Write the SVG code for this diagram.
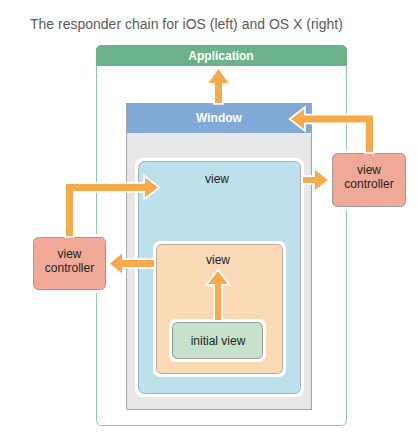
<svg xmlns="http://www.w3.org/2000/svg" width="417" height="442" viewBox="0 0 417 442">
<style>
text{font-family:"Liberation Sans",Arial,sans-serif;}
.lbl{font-size:12px;fill:#222;text-anchor:middle;}
.hdr{font-size:12px;font-weight:bold;fill:#fff;text-anchor:middle;}
.ring{fill:#fff;}
.arrow{fill:#f6aa4b;stroke:#fff;stroke-width:3.5;paint-order:stroke;stroke-linejoin:miter;}
.vc{fill:#f1a997;stroke:#a39893;stroke-width:1;}
</style>
<rect width="417" height="442" fill="#fff"/>
<text x="30" y="29" font-size="14" fill="#5b5b5b">The responder chain for iOS (left) and OS X (right)</text>

<g id="application">
  <rect x="96.5" y="45.5" width="250" height="380" rx="5" fill="#fff" stroke="#8ccaa4" stroke-width="1"/>
  <path d="M96,66 V50.5 A5,5 0 0 1 101,45 H342 A5,5 0 0 1 347,50.5 V66 Z" fill="#6bb28a"/>
  <text class="hdr" x="221" y="60">Application</text>
</g>

<g id="window">
  <rect x="126.5" y="103.5" width="185" height="306" fill="#e6e7e6" stroke="#a5a5a5" stroke-width="1"/>
  <rect x="127" y="104" width="184" height="29" fill="#81a9d6"/>
  <text class="hdr" x="219" y="122">Window</text>
</g>

<g id="view-outer">
  <rect class="ring" x="135" y="158" width="169" height="239" rx="8"/>
  <rect x="138.5" y="161.5" width="162" height="232" rx="6" fill="#bde1eb" stroke="#9fb0b8" stroke-width="1"/>
  <text class="lbl" x="217" y="183">view</text>
</g>

<g id="view-inner">
  <rect class="ring" x="153" y="241" width="133" height="136" rx="7"/>
  <rect x="156.5" y="244.5" width="126" height="129" rx="5" fill="#fad9b7" stroke="#b9aa9c" stroke-width="1"/>
  <text class="lbl" x="218" y="264">view</text>
</g>

<g id="initial-view">
  <rect class="ring" x="169" y="319" width="97" height="43" rx="7"/>
  <rect x="172.5" y="322.5" width="90" height="36" rx="5" fill="#c5e2cb" stroke="#8f9f93" stroke-width="1"/>
  <text class="lbl" x="218" y="345">initial view</text>
</g>

<g id="vc-right">
  <rect class="ring" x="329" y="150" width="80" height="60" rx="7"/>
  <rect class="vc" x="332.5" y="153.5" width="73" height="53" rx="5"/>
  <text class="lbl" x="369" y="174">view</text>
  <text class="lbl" x="369" y="188">controller</text>
</g>

<g id="vc-left">
  <rect class="ring" x="30" y="234" width="79" height="59" rx="7"/>
  <rect class="vc" x="33.5" y="237.5" width="72" height="52" rx="5"/>
  <text class="lbl" x="69.5" y="258">view</text>
  <text class="lbl" x="69.5" y="272">controller</text>
</g>

<g id="connectors">
  <polygon class="arrow" points="215,103 215,83 208.5,83 218.5,69 228.5,83 222,83 222,103"/>
  <polygon class="arrow" points="215,320 215,284 208,284 218,271 228,284 221,284 221,320"/>
  <polygon class="arrow" points="154,260 122,260 122,253.5 110,263.5 122,273.5 122,267 154,267"/>
  <polygon class="arrow" points="66,236 66,184 145,184 145,177.5 158,187.5 145,197.5 145,191 73,191 73,236"/>
  <polygon class="arrow" points="303,177 315,177 315,170 328,180 315,190 315,183 303,183"/>
  <polygon class="arrow" points="373,152 373,115.5 304,115.5 304,109 291,119 304,129 304,122.5 366,122.5 366,152"/>
</g>
</svg>
